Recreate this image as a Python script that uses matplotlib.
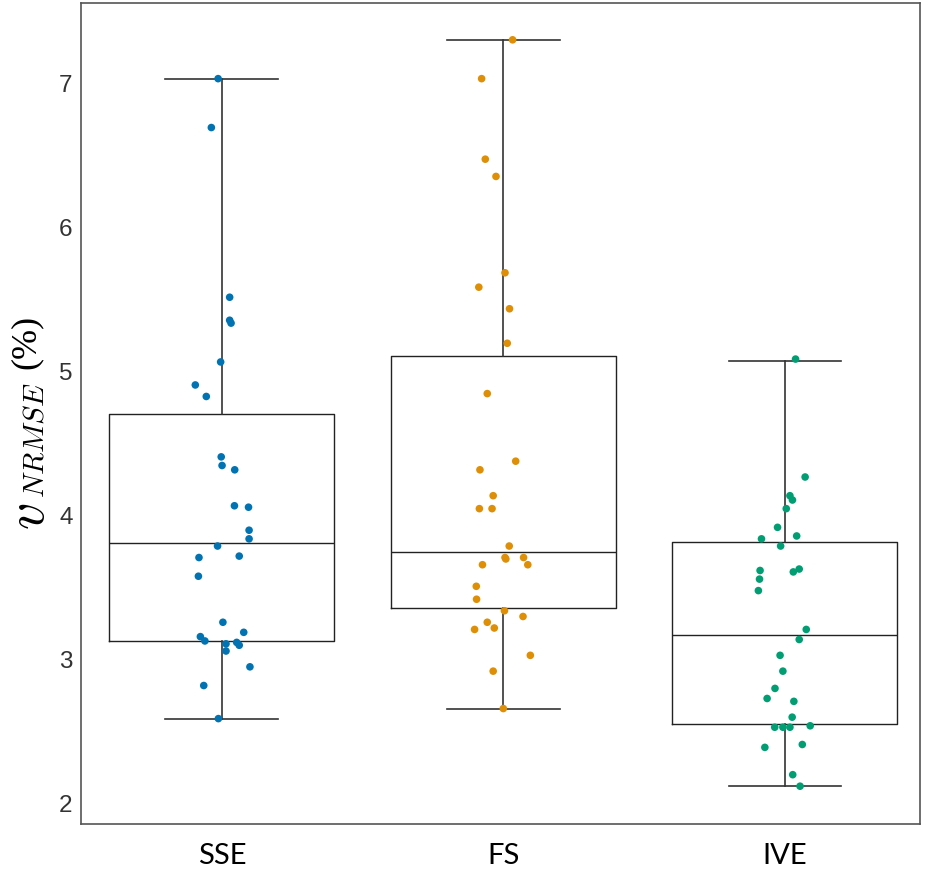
import numpy as np
import matplotlib
matplotlib.use("Agg")
import matplotlib.pyplot as plt

plt.rcParams["mathtext.fontset"] = "cm"

# categories and colours (seaborn colorblind palette)
groups = ["SSE", "FS", "IVE"]
colors = ["#0173B2", "#DE8F05", "#029E73"]

# box statistics
q1 = [3.12, 3.35, 2.54]
med = [3.80, 3.74, 3.16]
q3 = [4.70, 5.10, 3.81]
whislo = [2.58, 2.65, 2.11]
whishi = [7.03, 7.30, 5.07]

# individual points: values and horizontal jitter
sse_vals = [7.03, 6.69, 5.51, 5.35, 5.33, 5.06, 4.90, 4.82, 4.40, 4.34,
            4.31, 4.06, 4.05, 3.89, 3.83, 3.78, 3.70, 3.71, 3.57, 3.25,
            3.18, 3.15, 3.12, 3.10, 3.11, 3.09, 3.05, 2.94, 2.81, 2.58]
sse_jit = [-0.013, -0.037, 0.028, 0.028, 0.033, -0.004, -0.094, -0.055, -0.002, 0.001,
           0.046, 0.045, 0.095, 0.097, 0.097, -0.015, -0.081, 0.062, -0.083, 0.004,
           0.078, -0.076, -0.060, 0.015, 0.053, 0.062, 0.015, 0.100, -0.064, -0.012]

fs_vals = [7.30, 7.03, 6.47, 6.35, 5.68, 5.58, 5.43, 5.19, 4.84, 4.37,
           4.31, 4.13, 4.04, 4.04, 3.78, 3.70, 3.69, 3.70, 3.65, 3.65,
           3.50, 3.41, 3.33, 3.29, 3.25, 3.21, 3.20, 3.02, 2.91, 2.65]
fs_jit = [0.033, -0.077, -0.064, -0.026, 0.006, -0.087, 0.022, 0.014, -0.057, 0.044,
          -0.083, -0.036, -0.085, -0.040, 0.021, 0.006, 0.009, 0.072, 0.087, -0.074,
          -0.096, -0.095, 0.004, 0.070, -0.057, -0.032, -0.102, 0.096, -0.036, 0.000]

ive_vals = [5.08, 4.26, 4.13, 4.10, 4.04, 3.91, 3.85, 3.83, 3.78, 3.61,
            3.62, 3.60, 3.55, 3.47, 3.20, 3.13, 3.02, 2.91, 2.79, 2.72,
            2.70, 2.59, 2.52, 2.52, 2.52, 2.53, 2.38, 2.40, 2.19, 2.11]
ive_jit = [0.038, 0.072, 0.018, 0.027, 0.005, -0.026, 0.042, -0.083, -0.015, -0.088,
           0.051, 0.030, -0.090, -0.094, 0.076, 0.051, -0.017, -0.007, -0.035, -0.063,
           0.032, 0.026, -0.036, -0.007, 0.018, 0.090, -0.071, 0.062, 0.028, 0.054]

values = [sse_vals, fs_vals, ive_vals]
jitter = [sse_jit, fs_jit, ive_jit]

yticks = [2, 3, 4, 5, 6, 7]

W, H = 929, 870
fig = plt.figure(figsize=(W / 100, H / 100), dpi=100)
ax = fig.add_axes([0.0872, 0.0517, 0.9031, 0.9437])

stats = []
for i, g in enumerate(groups):
    stats.append(dict(label=g, q1=q1[i], med=med[i], q3=q3[i],
                      whislo=whislo[i], whishi=whishi[i], fliers=[]))

line = dict(color="#222222", linewidth=1.0)
ax.bxp(stats, positions=range(len(groups)), widths=0.8, showfliers=False,
       boxprops=line, medianprops=line, whiskerprops=dict(color="#333333", linewidth=1.2),
       capprops=dict(color="#333333", linewidth=1.2), capwidths=0.4, zorder=2)

for i in range(len(groups)):
    x = i + np.array(jitter[i])
    ax.scatter(x, values[i], s=30, color=colors[i], edgecolor="none", zorder=3)

ax.set_xlim(-0.5, 2.48)
ax.set_ylim(1.847, 7.556)
ax.set_yticks(yticks)
ax.set_yticklabels([str(t) for t in yticks], fontsize=17.5, color="#333333",
                   family="Liberation Sans")
ax.set_xticks(range(len(groups)))
ax.set_xticklabels(groups, fontsize=21, family="Lato", color="black")
ax.tick_params(axis="both", length=0)
ax.tick_params(axis="x", pad=13)
ax.tick_params(axis="y", pad=6)

for sp in ax.spines.values():
    sp.set_color("#555555")
    sp.set_linewidth(1.2)

# y label built from pieces: big italic v, italic subscript, upright (%)
def lab(px, py, s, size, **kw):
    fig.text(px / W, 1 - py / H, s, rotation=90, rotation_mode="anchor",
             ha="left", va="baseline", fontsize=size, **kw)

lab(44, 530, r"$v$", 39)
lab(44, 498, r"$NRMSE$", 21)
lab(35, 369, "(%)", 26, family="Liberation Serif")

fig.savefig("out.png", dpi=100)
